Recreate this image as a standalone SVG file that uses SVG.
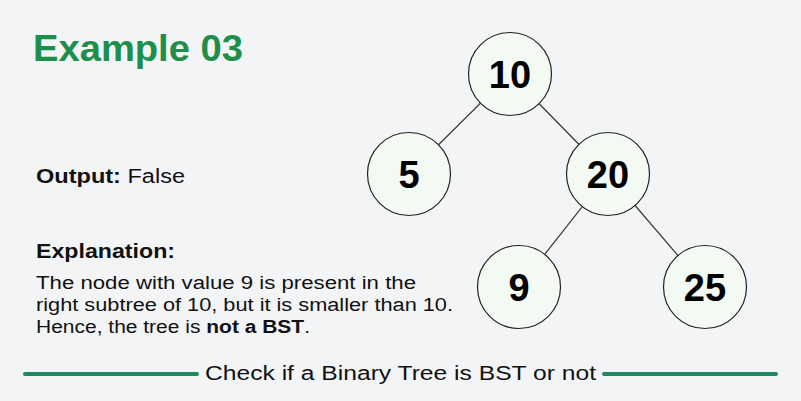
<svg xmlns="http://www.w3.org/2000/svg" width="801" height="401" viewBox="0 0 801 401">
<style>
.node circle{fill:#f3f9f3;stroke:#222;stroke-width:1.2}
.node text{font-family:"Liberation Sans",Arial,sans-serif;font-weight:bold;font-size:38px;fill:#000;text-anchor:middle}
.edge{stroke:#333;stroke-width:1.2}
.t{font-family:"Liberation Sans",Arial,sans-serif;fill:#111}
.rule{stroke:#1b8a5e;stroke-width:4;stroke-linecap:round}
</style>
<rect width="801" height="401" fill="#f3f4f6"/>
<text class="t" x="33" y="61" font-size="37" font-weight="bold" style="fill:#1e8f4a" textLength="210" lengthAdjust="spacingAndGlyphs">Example 03</text>
<text class="t" x="36" y="183" font-size="20" textLength="149" lengthAdjust="spacingAndGlyphs"><tspan font-weight="bold">Output:</tspan> False</text>
<text class="t" x="36" y="258" font-size="20" font-weight="bold" textLength="139" lengthAdjust="spacingAndGlyphs">Explanation:</text>
<text class="t" x="36" y="289" font-size="18" textLength="380" lengthAdjust="spacingAndGlyphs">The node with value 9 is present in the</text>
<text class="t" x="36" y="311" font-size="18" textLength="417" lengthAdjust="spacingAndGlyphs">right subtree of 10, but it is smaller than 10.</text>
<text class="t" x="36" y="333" font-size="18" textLength="274" lengthAdjust="spacingAndGlyphs">Hence, the tree is <tspan font-weight="bold">not a BST</tspan>.</text>
<g id="footer">
<line class="rule" x1="25" y1="374" x2="197" y2="374"/>
<line class="rule" x1="604" y1="374" x2="776" y2="374"/>
<text class="t" x="205" y="380" font-size="20" textLength="391" lengthAdjust="spacingAndGlyphs">Check if a Binary Tree is BST or not</text>
</g>
<g id="connectors">
<line class="edge" x1="510" y1="74" x2="409" y2="174"/>
<line class="edge" x1="510" y1="74" x2="608" y2="174"/>
<line class="edge" x1="608" y1="174" x2="519" y2="287"/>
<line class="edge" x1="608" y1="174" x2="705" y2="287"/>
</g>
<g id="node-10" class="node"><circle cx="510" cy="74" r="41.5"/><text x="510" y="88">10</text></g>
<g id="node-5" class="node"><circle cx="409" cy="174" r="41.5"/><text x="409" y="188">5</text></g>
<g id="node-20" class="node"><circle cx="608" cy="174" r="41.5"/><text x="608" y="188">20</text></g>
<g id="node-9" class="node"><circle cx="519" cy="287" r="41.5"/><text x="519" y="301">9</text></g>
<g id="node-25" class="node"><circle cx="705" cy="287" r="41.5"/><text x="705" y="301">25</text></g>
</svg>
